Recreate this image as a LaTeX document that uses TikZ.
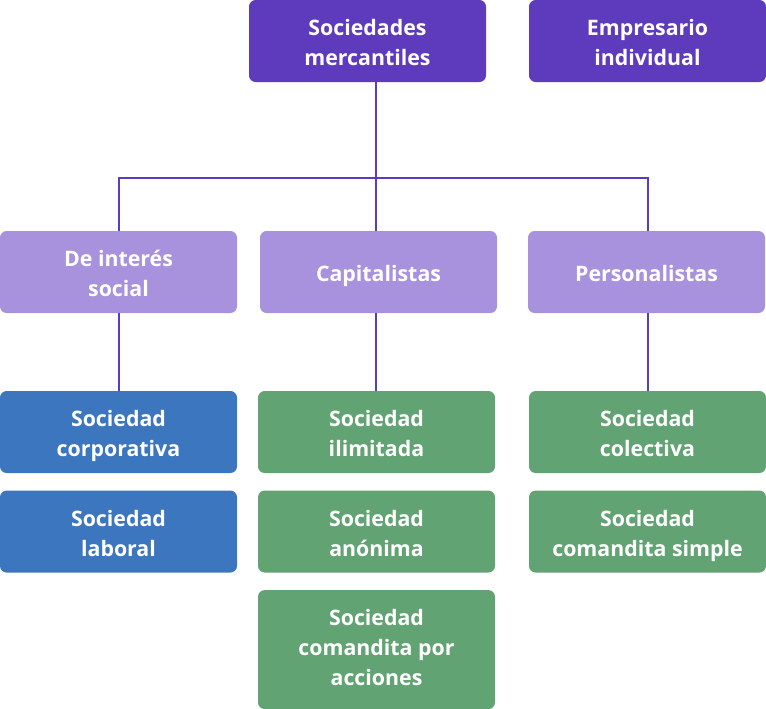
\documentclass[tikz,border=0pt]{standalone}
\usepackage{fontspec}
\setmainfont{Open Sans}
\usetikzlibrary{positioning}
\definecolor{topbox}{HTML}{5E3BBD}
\definecolor{midbox}{HTML}{A892DD}
\definecolor{bluebox}{HTML}{3B76BF}
\definecolor{greenbox}{HTML}{62A373}
% box text with fixed top and bottom struts
\newcommand\boxtext[2][21.5pt]{\rule{0pt}{#1}#2\strut}

\begin{document}
\begin{tikzpicture}[
    x=0.75pt, y=-0.75pt,
    font=\fontsize{16}{22.5}\selectfont\bfseries,
    node distance=12.75pt,
    block/.style={
        rounded corners=5pt,
        align=center,
        text=white,
        minimum width=177.75pt,
        minimum height=61.5pt,
        inner sep=0pt
    },
    topnode/.style={block, fill=topbox},
    typenode/.style={block, fill=midbox},
    socblue/.style={block, fill=bluebox},
    socgreen/.style={block, fill=greenbox},
    link/.style={draw=topbox, line width=1.5pt}
]
\useasboundingbox (0,0) rectangle (766,708);

\node[topnode] (Merc) at (367.5,41) {\boxtext{Sociedades\\mercantiles}};
\node[topnode] (Emp) at (647.5,41) {\boxtext{Empresario\\individual}};

\node[typenode] (Social) at (118.5,272) {\boxtext{De interés\\social}};
\node[typenode] (Capit) at (378.5,272) {\boxtext{Capitalistas}};
\node[typenode] (Person) at (646.5,272) {\boxtext{Personalistas}};

\node[socblue] (Corp) at (118.5,432) {\boxtext{Sociedad\\corporativa}};
\node[socblue, below=of Corp] (Lab) {\boxtext{Sociedad\\laboral}};

\node[socgreen] (Ilim) at (376.5,432) {\boxtext{Sociedad\\ilimitada}};
\node[socgreen, below=of Ilim] (Anon) {\boxtext{Sociedad\\anónima}};
\node[socgreen, below=of Anon, minimum height=89.25pt] (Comacc) {\boxtext[15.75pt]{Sociedad\\comandita por\\acciones}};

\node[socgreen] (Colec) at (647.5,432) {\boxtext{Sociedad\\colectiva}};
\node[socgreen, below=of Colec] (Comsim) {\boxtext{Sociedad\\comandita simple}};

\coordinate (bus) at (376,178);
\draw[link] (Merc.south -| bus) -- (bus);
\draw[link] (Social.north -| Corp) |- (bus) -| (Person.north -| Colec);
\draw[link] (bus) -- (Capit.north -| bus);

\draw[link] (Social.south -| Corp) -- (Corp.north);
\draw[link] (Capit.south -| bus) -- (Ilim.north -| bus);
\draw[link] (Person.south -| Colec) -- (Colec.north);

\end{tikzpicture}
\end{document}
